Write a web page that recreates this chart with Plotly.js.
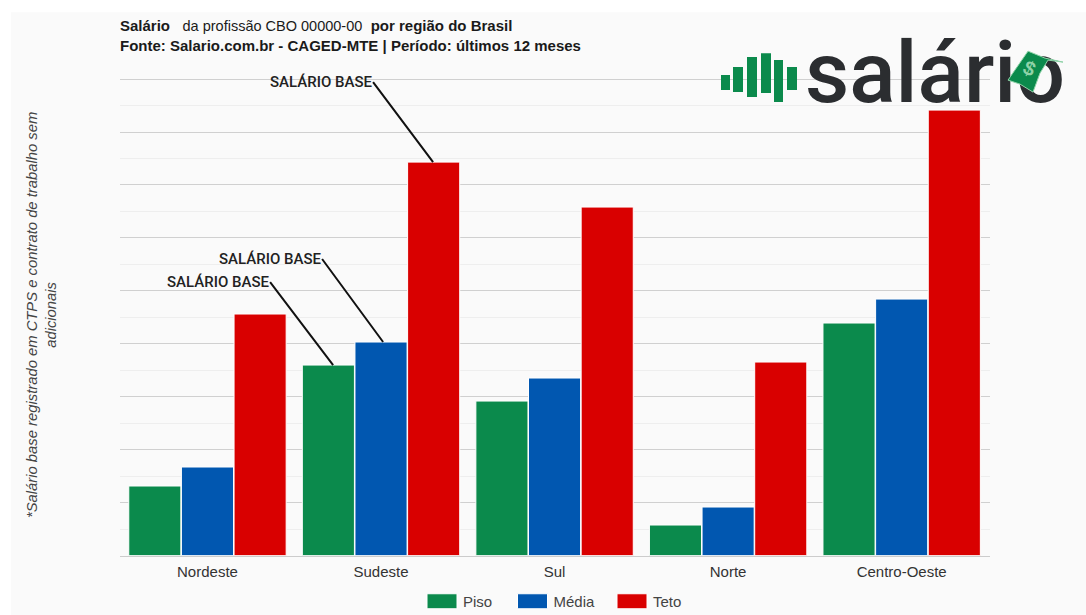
<!DOCTYPE html>
<html><head><meta charset="utf-8">
<script src="https://cdn.plot.ly/plotly-3.0.1.min.js"></script>
<style>html,body{margin:0;padding:0;background:#fff}#c{width:1086px;height:615px}</style></head>
<body><div id="c"></div>
<script>
const regions = ['Nordeste','Sudeste','Sul','Norte','Centro-Oeste'];
const piso  = [1313,3598,2918,576,4392];
const media = [1672,4033,3353,916,4845];
const teto  = [4562,7432,6583,3655,8415];
const seriesNames = ['Piso','Média','Teto'];
const seriesColors = ['#0b8a4c','#0157b0','#d90000'];
const calloutText = 'SALÁRIO BASE';

const L=120,R=990,T=76.88,B=555.5,PB=615;
const px=v=>(v-L)/(R-L), py=v=>(PB-v)/(PB-T);
const vals=[piso,media,teto];
const traces=seriesNames.map((n,i)=>({type:'bar',name:n,x:regions,y:vals[i],
  marker:{color:seriesColors[i],line:{color:'#ffffff',width:1}},hoverinfo:'x+y'}));

const barRects=[[722,76,729,89],[734,68,742,91],[748,58,756,96],[762,54,770,92],[775,61,782,101],[788,68,796,89]];
const shapes=[{type:'rect',xref:'paper',yref:'paper',x0:px(11),x1:px(1086),y0:py(615),y1:py(12),fillcolor:'#fafafa',line:{width:0},layer:'below'}];
barRects.forEach(r=>shapes.push({type:'rect',xref:'paper',yref:'paper',x0:px(r[0]),x1:px(r[2]),y0:py(r[3]),y1:py(r[1]),fillcolor:'#0b8a4c',line:{color:'#0b8a4c',width:2},layer:'above'}));
const bill=[[1008,80],[1028,51],[1045,58],[1063,62],[1048,60],[1040,73],[1033,92],[1020,84]];
shapes.push({type:'path',xref:'paper',yref:'paper',path:bill.map((p,i)=>(i?'L':'M')+px(p[0])+','+py(p[1])).join('')+'Z',fillcolor:'#0b8a4c',line:{color:'#8fd3a8',width:1},layer:'above'});

const callout=(x,y,tx,ty,hx,hy)=>({x,y,xref:'x',yref:'y',text:calloutText,showarrow:true,arrowhead:0,arrowwidth:2,arrowcolor:'#111',
  ax:tx-hx,ay:ty-hy,axref:'pixel',ayref:'pixel',xanchor:'right',yanchor:'middle',borderpad:0,
  font:{family:'Roboto, sans-serif',size:15,color:'#222',weight:500}});

const layout={
 width:1086,height:615,margin:{l:L,r:1086-R,t:T,b:0},
 paper_bgcolor:'#ffffff',plot_bgcolor:'rgba(0,0,0,0)',
 font:{family:'"Liberation Sans", Arial, sans-serif',size:15,color:'#444'},
 title:{text:'<b>Salário</b>&nbsp;&nbsp;&nbsp;<span style="font-size:14.5px">da profissão CBO 00000-00</span>&nbsp;&nbsp;<b>por região do Brasil</b><br><b>Fonte: Salario.com.br - CAGED-MTE | Período: últimos 12 meses</b>',
   x:L/1086,xanchor:'left',y:1-31/615,yanchor:'middle',font:{size:15,color:'#1a1a1a'}},
 barmode:'group',bargap:0.09,bargroupgap:0.01,
 xaxis:{type:'category',range:[-0.504,4.509],fixedrange:true,showgrid:false,linecolor:'#cccccc',ticks:'',ticklabelstandoff:2,tickfont:{size:15,color:'#333'},automargin:false},
 yaxis:{domain:[py(B),1],range:[0,9040],dtick:1000,showticklabels:false,ticks:'',gridcolor:'#d0d0d0',zeroline:false,
   minor:{dtick:500,showgrid:true,gridcolor:'#eeeeee',ticks:''},fixedrange:true,automargin:false},
 legend:{orientation:'h',x:px(421),xanchor:'left',y:py(614),yanchor:'bottom',itemwidth:32,entrywidth:48,entrywidthmode:'pixels',font:{size:15,color:'#444'},traceorder:'normal',bgcolor:'rgba(0,0,0,0)'},
 shapes,
 annotations:[
  callout(1.3,7432,372,82,432,162),
  callout(1.012,4033,322,259,383,342),
  callout(0.724,3598,270,283,333,366),
  {xref:'paper',yref:'paper',x:px(41),y:py(315),xanchor:'center',yanchor:'middle',showarrow:false,textangle:-90,text:'<i>*Salário base registrado em CTPS e contrato de trabalho sem<br>adicionais</i>',font:{size:14.8,color:'#444'}},
  {xref:'paper',yref:'paper',x:px(804),y:py(72.3),xanchor:'left',yanchor:'middle',showarrow:false,text:'salário',borderpad:0,
   font:{family:'Roboto, sans-serif',size:86,color:'#2b2d30',weight:500}},
  {xref:'paper',yref:'paper',x:px(1029),y:py(68),xanchor:'center',yanchor:'middle',showarrow:false,text:'$',textangle:25,font:{family:'"Liberation Sans"',size:20,color:'#8fd3a8',weight:700}}
 ]
};
function shift(el,dx,dy){
  if(!el||el.dataset.moved)return;
  const m=/translate\(([-\d.]+),\s*([-\d.]+)\)/.exec(el.getAttribute('transform')||'');
  if(m){el.setAttribute('transform','translate('+(parseFloat(m[1])+dx)+','+(parseFloat(m[2])+dy)+')');el.dataset.moved='1';}
}
function finish(gd){
  gd.querySelectorAll('.legendpoints path').forEach(p=>p.setAttribute('d','M15,7.5H-15V-7.5H15Z'));
  shift(gd.querySelectorAll('.legend .traces')[1],-4.5,0);
  shift(gd.querySelector('.legend'),0,4);
  const info=gd.querySelector('.infolayer');
  const paths=gd.querySelectorAll('.layer-above .shapelayer path');
  const anns=info.querySelectorAll('.annotation');
  if(paths.length===barRects.length+1&&anns.length) info.insertBefore(paths[paths.length-1],anns[anns.length-1]);
}
Plotly.newPlot('c',traces,layout,{displayModeBar:false,responsive:false}).then(gd=>{
  finish(gd);
  gd.on('plotly_afterplot',()=>finish(gd));
  setTimeout(()=>finish(gd),50);
});
</script></body></html>
